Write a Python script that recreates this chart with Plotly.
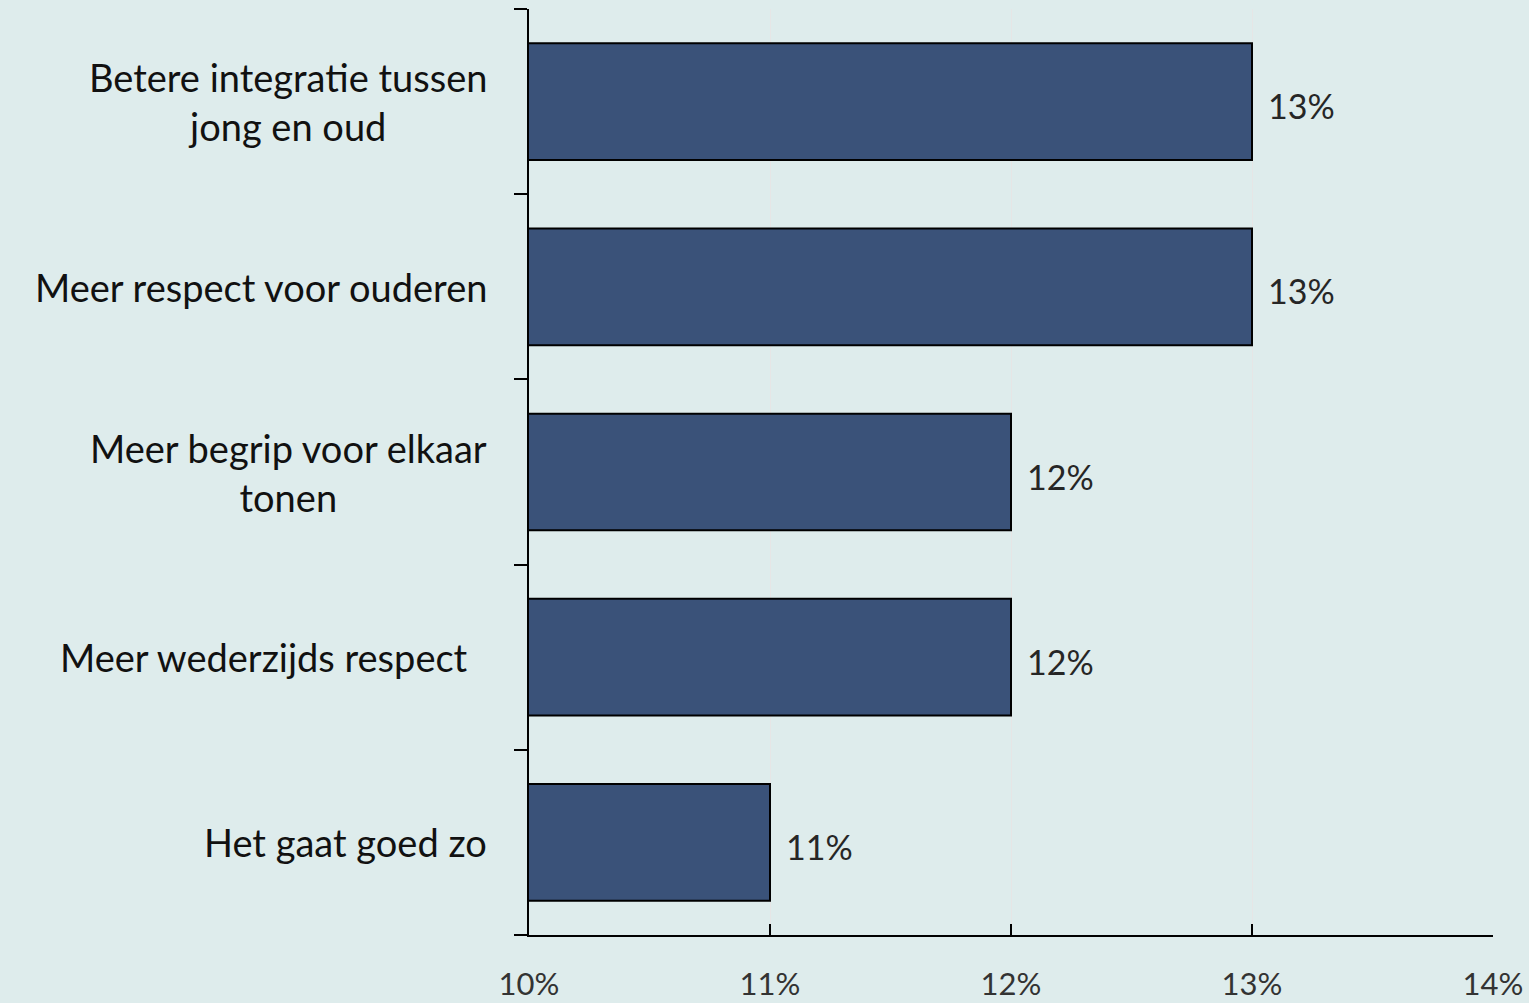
import plotly.graph_objects as go

categories = [
    "Betere integratie tussen<br>jong en oud",
    "Meer respect voor ouderen",
    "Meer begrip voor elkaar<br>tonen",
    "Meer wederzijds respect\u00a0\u00a0",
    "Het gaat goed zo",
]
values = [13, 13, 12, 12, 11]
x_ticks = [10, 11, 12, 13, 14]
x_labels = ["10%", "11%", "12%", "13%", "14%"]

bg = "#deecec"
bar_color = "#3a5279"
font_name = "Lato"

fig = go.Figure()

fig.add_trace(go.Bar(
    x=values,
    y=categories,
    orientation="h",
    base=0,
    marker=dict(color=bar_color, line=dict(color="#000000", width=2)),
    hoverinfo="skip",
))

# value labels to the right of each bar
for cat, v in zip(categories, values):
    fig.add_annotation(
        x=v, y=cat, xref="x", yref="y",
        text=f"{v}%", showarrow=False,
        xanchor="left", yanchor="middle", xshift=14, yshift=-4,
        font=dict(family=font_name, size=34, color="#262626"),
    )

# category labels, lines centred like the original
for cat in categories:
    fig.add_annotation(
        x=0, y=cat, xref="paper", yref="y",
        text=cat, showarrow=False, align="center",
        xanchor="right", yanchor="middle", xshift=-40,
        font=dict(family=font_name, size=38, color="#111111"),
    )

fig.update_layout(
    width=1529,
    height=1003,
    margin=dict(l=529, r=36, t=9, b=68, autoexpand=False),
    paper_bgcolor=bg,
    plot_bgcolor=bg,
    bargap=0.37,
    showlegend=False,
    font=dict(family=font_name, size=30, color="#333333"),
)

fig.update_xaxes(
    range=[10, 14],
    tickvals=x_ticks,
    ticktext=x_labels,
    automargin=False,
    showgrid=True,
    gridcolor="#e6e6e6",
    gridwidth=1,
    showline=True,
    linecolor="#000000",
    linewidth=2,
    ticks="inside",
    ticklen=11,
    tickwidth=2,
    tickcolor="#000000",
    ticklabelstandoff=21,
    tickfont=dict(family=font_name, size=31, color="#333333"),
    zeroline=False,
)

fig.update_yaxes(
    categoryorder="array",
    categoryarray=categories[::-1],
    automargin=False,
    showticklabels=False,
    showline=True,
    linecolor="#000000",
    linewidth=2,
    ticks="outside",
    tickson="boundaries",
    ticklen=13,
    tickwidth=2,
    tickcolor="#000000",
    showgrid=False,
)

fig.write_html(
    "out.html",
    config={"displayModeBar": False},
    post_script="document.body.style.margin='0';document.body.style.background='#deecec';",
)
